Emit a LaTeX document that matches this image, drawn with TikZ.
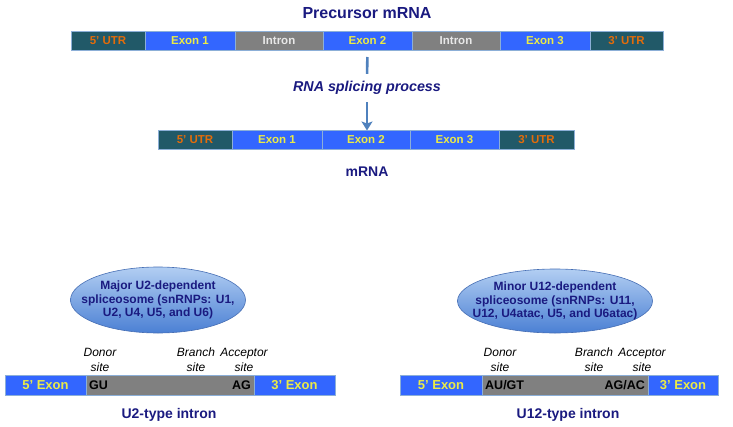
\documentclass[tikz,border=0pt]{standalone}
\usepackage{fontspec}
\setmainfont{Liberation Sans}
\usepackage{xcolor}
\usetikzlibrary{shapes.geometric, arrows.meta, positioning}

\definecolor{navy}{RGB}{26,26,128}
\definecolor{utrfill}{RGB}{33,89,104}
\definecolor{utrtext}{RGB}{228,108,10}
\definecolor{exonfill}{RGB}{51,102,255}
\definecolor{exontext}{RGB}{235,235,70}
\definecolor{intronfill}{RGB}{128,128,128}
\definecolor{introntext}{RGB}{232,232,232}
\definecolor{segline}{RGB}{140,175,215}
\definecolor{arrowblue}{RGB}{79,129,189}
\definecolor{elltop}{RGB}{178,206,242}
\definecolor{ellbot}{RGB}{75,128,212}
\definecolor{ellline}{RGB}{70,110,180}

\begin{document}
\begin{tikzpicture}[
    x=1pt, y=-1pt,
    seg/.style={draw=segline, line width=0.6pt, rectangle, minimum height=19pt, inner sep=0pt, outer sep=0pt, anchor=west, font=\fontsize{11.5}{12}\selectfont\bfseries},
    utr/.style={seg, fill=utrfill, text=utrtext},
    exon/.style={seg, fill=exonfill, text=exontext},
    intron/.style={seg, fill=intronfill, text=introntext},
    big/.style={minimum height=20pt, font=\fontsize{13}{14}\selectfont\bfseries},
    heading/.style={text=navy, font=\fontsize{14}{16}\selectfont\bfseries},
    site/.style={align=center, font=\fontsize{12}{15}\selectfont\itshape},
    motif/.style={inner sep=3pt, font=\fontsize{12.5}{14}\selectfont\bfseries},
    spliceo/.style={ellipse, draw=ellline, line width=0.6pt, top color=elltop, bottom color=ellbot, inner sep=0pt},
    spliceotext/.style={align=center, text=navy, inner sep=0pt, font=\fontsize{12}{13.5}\selectfont\bfseries},
    >={Stealth[width=11pt,length=9pt,inset=2pt]}
]
\useasboundingbox (0,0) rectangle (733,426);

% Precursor mRNA
\node[heading, font=\fontsize{16}{18}\selectfont\bfseries] (pre_title) at (367,13) {Precursor mRNA};
\node[utr, minimum width=74pt] (utr5_a) at (71,40.5) {5' UTR};
\node[exon, minimum width=90pt, right=0pt of utr5_a] (ex1_a) {Exon 1};
\node[intron, minimum width=88pt, right=0pt of ex1_a] (in1_a) {Intron};
\node[exon, minimum width=89pt, right=0pt of in1_a] (ex2_a) {Exon 2};
\node[intron, minimum width=88pt, right=0pt of ex2_a] (in2_a) {Intron};
\node[exon, minimum width=90pt, right=0pt of in2_a] (ex3_a) {Exon 3};
\node[utr, minimum width=73pt, right=0pt of ex3_a] (utr3_a) {3' UTR};

% Splicing
\node[text=navy, font=\fontsize{14.3}{16}\selectfont\bfseries\itshape] (splice) at (367,88) {RNA splicing process};

% Mature mRNA
\node[utr, minimum width=74pt] (utr5_b) at (158,140) {5' UTR};
\node[exon, minimum width=90pt, right=0pt of utr5_b] (ex1_b) {Exon 1};
\node[exon, minimum width=88pt, right=0pt of ex1_b] (ex2_b) {Exon 2};
\node[exon, minimum width=89pt, right=0pt of ex2_b] (ex3_b) {Exon 3};
\node[utr, minimum width=75pt, right=0pt of ex3_b] (utr3_b) {3' UTR};
\node[heading] (mrna) at (367,172) {mRNA};

\draw[arrowblue, line width=2.6pt, shorten <=7pt, shorten >=4pt] (ex2_a.south) -- (splice.north);
\draw[->, arrowblue, line width=2.6pt, shorten <=4pt] (splice.south) -- (splice.south |- ex2_b.north);

% U2-type intron
\node[spliceo, minimum width=175pt, minimum height=66pt] (major) at (158,300) {};
\node[spliceotext] (major_txt) at (major) {Major U2-dependent\\ spliceosome (snRNPs: U1,\\ U2, U4, U5, and U6)};
\node[exon, big, minimum width=81pt] (ex5_c) at (5,385) {5' Exon};
\node[intron, big, minimum width=168pt, right=0pt of ex5_c] (in_c) {};
\node[exon, big, minimum width=81pt, right=0pt of in_c] (ex3_c) {3' Exon};
\node[motif, anchor=west] (gu) at (in_c.west) {GU};
\node[motif, anchor=east] (ag) at (in_c.east) {AG};
\node[site] (donor_c) at (100,360) {Donor\\ site};
\node[site] (branch_c) at (196,360) {Branch\\ site};
\node[site] (acc_c) at (244,360) {Acceptor\\ site};
\node[heading] (u2) at (169,415) {U2-type intron};

% U12-type intron
\node[spliceo, minimum width=195pt, minimum height=64pt] (minor) at (555,301) {};
\node[spliceotext] (minor_txt) at (minor) {Minor U12-dependent\\ spliceosome (snRNPs: U11,\\ U12, U4atac, U5, and U6atac)};
\node[exon, big, minimum width=82pt] (ex5_d) at (400,385) {5' Exon};
\node[intron, big, minimum width=166pt, right=0pt of ex5_d] (in_d) {};
\node[exon, big, minimum width=70pt, right=0pt of in_d] (ex3_d) {3' Exon};
\node[motif, anchor=west] (augt) at (in_d.west) {AU/GT};
\node[motif, anchor=east] (agac) at (in_d.east) {AG/AC};
\node[site] (donor_d) at (500,360) {Donor\\ site};
\node[site] (branch_d) at (594,360) {Branch\\ site};
\node[site] (acc_d) at (642,360) {Acceptor\\ site};
\node[heading] (u12) at (568,415) {U12-type intron};

\end{tikzpicture}
\end{document}
